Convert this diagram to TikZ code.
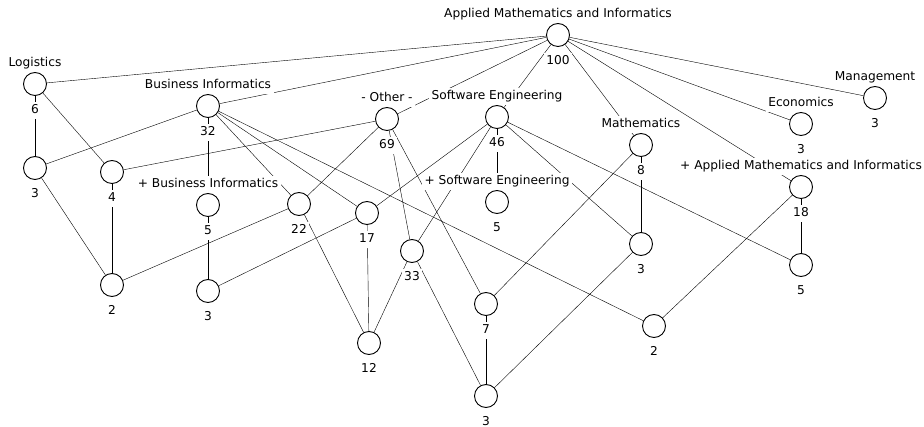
\documentclass[tikz,border=0pt]{standalone}
\usepackage{fontspec}
\setmainfont{DejaVu Sans}
\usetikzlibrary{backgrounds}

\begin{document}
\begin{tikzpicture}[x=1pt, y=-1pt, line width=0.9pt,
  txt/.style = {fill=white, inner sep=2.5pt, text height=9pt, text depth=3pt, font=\fontsize{12.2}{14}\selectfont},
  main/.style 2 args = {draw, circle, fill=white, minimum size=23pt, inner sep=0pt,
    label={[txt, label distance=0pt]above:#1}, label={[txt, label distance=5.5pt]below:#2}},
  leaf/.style = {draw, circle, fill=white, minimum size=23pt, inner sep=0pt,
    label={[txt, label distance=5.5pt]below:#1}}]
  \useasboundingbox (0,0) rectangle (924,427);

  % top level
  \node[main={Applied Mathematics and Informatics}{100}] (1) at (558,35) {};
  \node[main={Logistics}{6}] (2) at (35,84) {};
  \node[main={Business Informatics}{32}] (3) at (208,106) {};
  \node[main={- Other -}{69}] (4) at (387,119) {};
  \node[main={Software Engineering}{46}] (5) at (497,117) {};
  \node[main={Mathematics}{8}] (6) at (641,145) {};
  \node[main={Economics}{3}] (7) at (801,124) {};
  \node[main={Management}{3}] (8) at (875,98) {};
  \node[main={+ Applied Mathematics and Informatics}{18}] (9) at (801,187) {};

  % lower levels
  \node[leaf=3] (10) at (35,168) {};
  \node[leaf=4] (11) at (112,172) {};
  \node[main={+ Business Informatics}{5}] (12) at (208,205) {};
  \node[leaf=22] (13) at (299,204) {};
  \node[leaf=17] (14) at (367,213) {};
  \node[main={+ Software Engineering}{5}] (15) at (497,202) {};
  \node[leaf=33] (16) at (412,251) {};
  \node[leaf=3] (17) at (641,244) {};
  \node[leaf=5] (18) at (801,265) {};
  \node[leaf=2] (19) at (112,285) {};
  \node[leaf=3] (20) at (208,291) {};
  \node[leaf=7] (21) at (486,304) {};
  \node[leaf=2] (22) at (654,326) {};
  \node[leaf=12] (23) at (369,343) {};
  \node[leaf=3] (24) at (486,396) {};

  \begin{scope}[on background layer]
    \path (1) edge (2) edge (3) edge (4) edge (5) edge (6) edge (7) edge (8) edge (9);
    \path (2) edge (10) edge (11);
    \path (3) edge (10) edge (12) edge (13) edge (14) edge (22);
    \path (4) edge (11) edge (13) edge (16) edge (21);
    \path (5) edge (14) edge (15) edge (16) edge (17) edge (18);
    \path (6) edge (17) edge (21);
    \path (9) edge (18) edge (22);
    \path (10) edge (19);
    \path (11) edge (19);
    \path (12) edge (20);
    \path (13) edge (19) edge (23);
    \path (14) edge (20) edge (23);
    \path (16) edge (23) edge (24);
    \path (17) edge (24);
    \path (21) edge (24);
  \end{scope}
\end{tikzpicture}
\end{document}
